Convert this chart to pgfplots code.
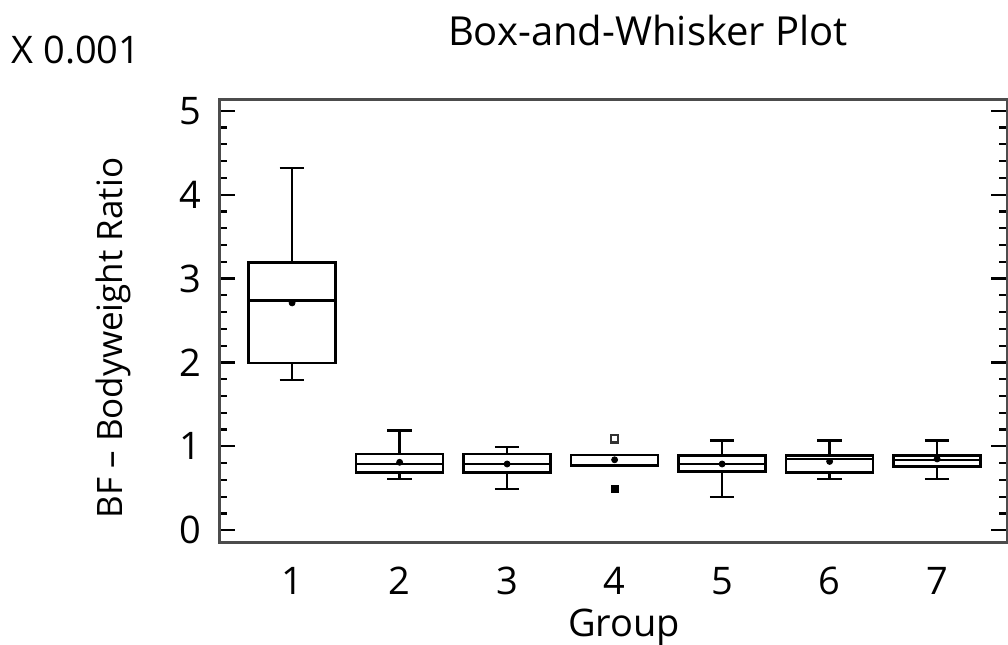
\documentclass[border=0pt]{standalone}
\usepackage{pgfplots}
\pgfplotsset{compat=1.18}
\usepgfplotslibrary{statistics}
\usepackage{fontspec}
\setmainfont{Open Sans}
\begin{document}
\fontsize{19}{22}\selectfont
\begin{tikzpicture}
\begin{axis}[
  at={(109.5pt,-271pt)}, anchor=south west,
  scale only axis, width=394pt, height=221.5pt,
  xmin=0.32, xmax=7.65, ymin=-0.14, ymax=5.14,
  xtick={1,2,3,4,5,6,7},
  ytick={0,1,2,3,4,5},
  minor y tick num=4,
  ytick pos=both, xtick pos=bottom,
  tick align=inside,
  x tick style={draw=none},
  major tick length=8pt, minor tick length=4pt,
  y tick style={line width=1.1pt, black},
  axis line style={line width=1.5pt, black!70},
  /pgf/number format/assume math mode=true,
  ticklabel style={font=\fontsize{19}{22}\selectfont},
  xticklabel style={yshift=-6pt},
  yticklabel style={xshift=-2.5pt},
  boxplot/draw direction=y,
  boxplot/box extend=0.81,
  boxplot/whisker extend=0.23,
  clip=false,
]
\addplot[black, line width=1.2pt, boxplot prepared={draw position=1, lower whisker=1.79, lower quartile=1.99, median=2.74, upper quartile=3.19, upper whisker=4.32}] coordinates {};
\addplot[black, line width=1.2pt, boxplot prepared={draw position=2, lower whisker=0.61, lower quartile=0.69, median=0.79, upper quartile=0.91, upper whisker=1.19}] coordinates {};
\addplot[black, line width=1.2pt, boxplot prepared={draw position=3, lower whisker=0.49, lower quartile=0.69, median=0.79, upper quartile=0.91, upper whisker=0.99}] coordinates {};
\addplot[black, line width=1.2pt, boxplot prepared={draw position=4, lower whisker=0.77, lower quartile=0.77, median=0.77, upper quartile=0.90, upper whisker=0.90}] coordinates {};
\addplot[black, line width=1.2pt, boxplot prepared={draw position=5, lower whisker=0.40, lower quartile=0.70, median=0.79, upper quartile=0.89, upper whisker=1.07}] coordinates {};
\addplot[black, line width=1.2pt, boxplot prepared={draw position=6, lower whisker=0.61, lower quartile=0.69, median=0.85, upper quartile=0.89, upper whisker=1.07}] coordinates {};
\addplot[black, line width=1.2pt, boxplot prepared={draw position=7, lower whisker=0.61, lower quartile=0.76, median=0.84, upper quartile=0.89, upper whisker=1.07}] coordinates {};
% means
\addplot[only marks, mark=*, mark size=1.5pt, black] coordinates {(1,2.71) (2,0.81) (3,0.79) (4,0.84) (5,0.79) (6,0.82) (7,0.85)};
% outliers
\addplot[only marks, mark=square, mark size=1.8pt, line width=1.1pt, black!80] coordinates {(4,1.09)};
\addplot[only marks, mark=square*, mark size=1.8pt, black] coordinates {(4,0.49)};
\end{axis}
\node at (324pt,-15pt) {\fontsize{20}{24}\selectfont Box-and-Whisker Plot};
\node at (38pt,-25pt) {X 0.001};
\node at (312pt,-313.5pt) {Group};
\node[rotate=90] at (56.5pt,-169pt) {\fontsize{17.5}{21}\selectfont BF -- Bodyweight Ratio};
\pgfresetboundingbox
\path (0,0) rectangle (504pt,-322pt);
\end{tikzpicture}
\end{document}
